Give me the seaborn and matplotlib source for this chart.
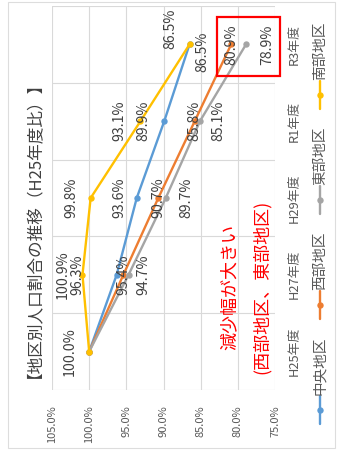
import matplotlib
matplotlib.use("Agg")
import matplotlib.pyplot as plt
from matplotlib.lines import Line2D
from matplotlib.patches import Rectangle
import pandas as pd
import seaborn as sns

# ---- data ----
years = ["H25年度", "H27年度", "H29年度", "R1年度", "R3年度"]
districts = ["中央地区", "西部地区", "東部地区", "南部地区"]
chuo = [100.0, 96.3, 93.6, 89.9, 86.5]
seibu = [100.0, 95.4, 90.7, 85.8, 80.9]
tobu = [100.0, 94.7, 89.7, 85.1, 78.9]
nanbu = [100.0, 100.9, 99.8, 93.1, 86.5]
value_ticks = [105, 100, 95, 90, 85, 80, 75]
title = "【地区別人口割合の推移（H25年度比）】"
note_lines = ["減少幅が大きい", "(西部地区、東部地区)"]

colors = {"中央地区": "#5B9BD5", "西部地区": "#ED7D31",
          "東部地区": "#A5A5A5", "南部地区": "#FFC000"}

# label offsets in pixels (dx right, dy up); None = no label
label_offsets = {
    "南部地区": [(-19, 0), (-20, 0), (-19, 0), (-21, 0), (-19, 16)],
    "中央地区": [None, (-39, 0), (-17, 0), (-21, 0), (13, -7)],
    "西部地区": [None, (0, 0), (0, 0), (0, 0), (0, 0)],
    "東部地区": [None, (15, 0), (21, 0), (18, 0), (21, 0)],
}

series = dict(zip(districts, [chuo, seibu, tobu, nanbu]))
df = pd.DataFrame(
    [(d, i, v) for d in districts for i, v in enumerate(series[d])],
    columns=["地区", "pos", "割合"],
)

sns.set_style("white")
plt.rcParams["font.family"] = ["Noto Sans CJK JP", "DejaVu Sans"]

W, H = 340, 455
DPI = 100


def fx(px):
    return px / W


def fy(py):
    return 1 - py / H


fig = plt.figure(figsize=(W / DPI, H / DPI), dpi=DPI)
fig.patch.set_facecolor("white")

# outer chart frame
fig.add_artist(Rectangle((fx(8), fy(448)), fx(335) - fx(8), fy(2) - fy(448),
                         transform=fig.transFigure, fill=False,
                         ec="#DDDDDD", lw=0.8))

ax = fig.add_axes([fx(52), fy(390), (275 - 52) / W, (390 - 6) / H])

sns.lineplot(data=df, x="割合", y="pos", hue="地区", hue_order=districts,
             palette=colors, orient="y", sort=False, estimator=None,
             marker="o", markersize=4.6, markeredgewidth=0, linewidth=1.7,
             legend=False, ax=ax)

ax.set_xlim(105, 75)
ax.set_ylim(-0.5, len(years) - 0.5)
ax.set_xticks(value_ticks)
ax.set_xticklabels([f"{v:.1f}%" for v in value_ticks], rotation=90,
                   fontsize=8, color="#595959")
ax.set_yticks(range(len(years)))
ax.set_yticklabels(years, rotation=90, va="center", fontsize=9.3,
                   color="#595959")
ax.yaxis.tick_right()
ax.set_yticks([i - 0.5 for i in range(len(years) + 1)], minor=True)
ax.tick_params(axis="x", length=0, pad=11)
ax.tick_params(axis="y", which="both", length=0, pad=9)
ax.grid(axis="x", which="major", color="#D9D9D9", lw=0.8)
ax.grid(axis="y", which="minor", color="#D9D9D9", lw=0.8)
ax.grid(axis="y", which="major", visible=False)
for s in ax.spines.values():
    s.set_visible(False)
ax.set_xlabel("")
ax.set_ylabel("")
ax.set_facecolor("white")

# data labels
for d in districts:
    for i, v in enumerate(series[d]):
        off = label_offsets[d][i]
        if off is None:
            continue
        ax.annotate(f"{v:.1f}%", xy=(v, i),
                    xytext=(off[0] * 0.72, off[1] * 0.72),
                    textcoords="offset points", rotation=90,
                    ha="center", va="center", fontsize=10.2,
                    color="#404040", zorder=5)

# title
fig.text(fx(27), fy(221), title, rotation=90, ha="center", va="center",
         fontsize=12, color="#404040")

# highlight box and note
fig.add_artist(Rectangle((fx(217), fy(76)), (280 - 217) / W, (76 - 17) / H,
                         transform=fig.transFigure, fill=False,
                         ec="#FF0000", lw=1.6))
fig.text(fx(230), fy(287), note_lines[0], rotation=90, ha="center",
         va="center", fontsize=13, color="#FF0000")
fig.text(fx(262), fy(287), note_lines[1], rotation=90, ha="center",
         va="center", fontsize=13, color="#FF0000")

# legend
legend_marker_y = {"中央地区": 410, "西部地区": 305, "東部地区": 200,
                   "南部地区": 95}
for d in districts:
    y0 = legend_marker_y[d]
    fig.add_artist(Line2D([fx(320), fx(320)], [fy(y0 + 14), fy(y0 - 14)],
                          transform=fig.transFigure, color=colors[d], lw=1.7))
    fig.add_artist(Line2D([fx(320)], [fy(y0)], transform=fig.transFigure,
                          color=colors[d], marker="o", markersize=4.6,
                          markeredgewidth=0))
    fig.text(fx(320), fy(y0 - 44), d, rotation=90, ha="center", va="center",
             fontsize=10.5, color="#595959")

fig.savefig("out.png", dpi=DPI)
